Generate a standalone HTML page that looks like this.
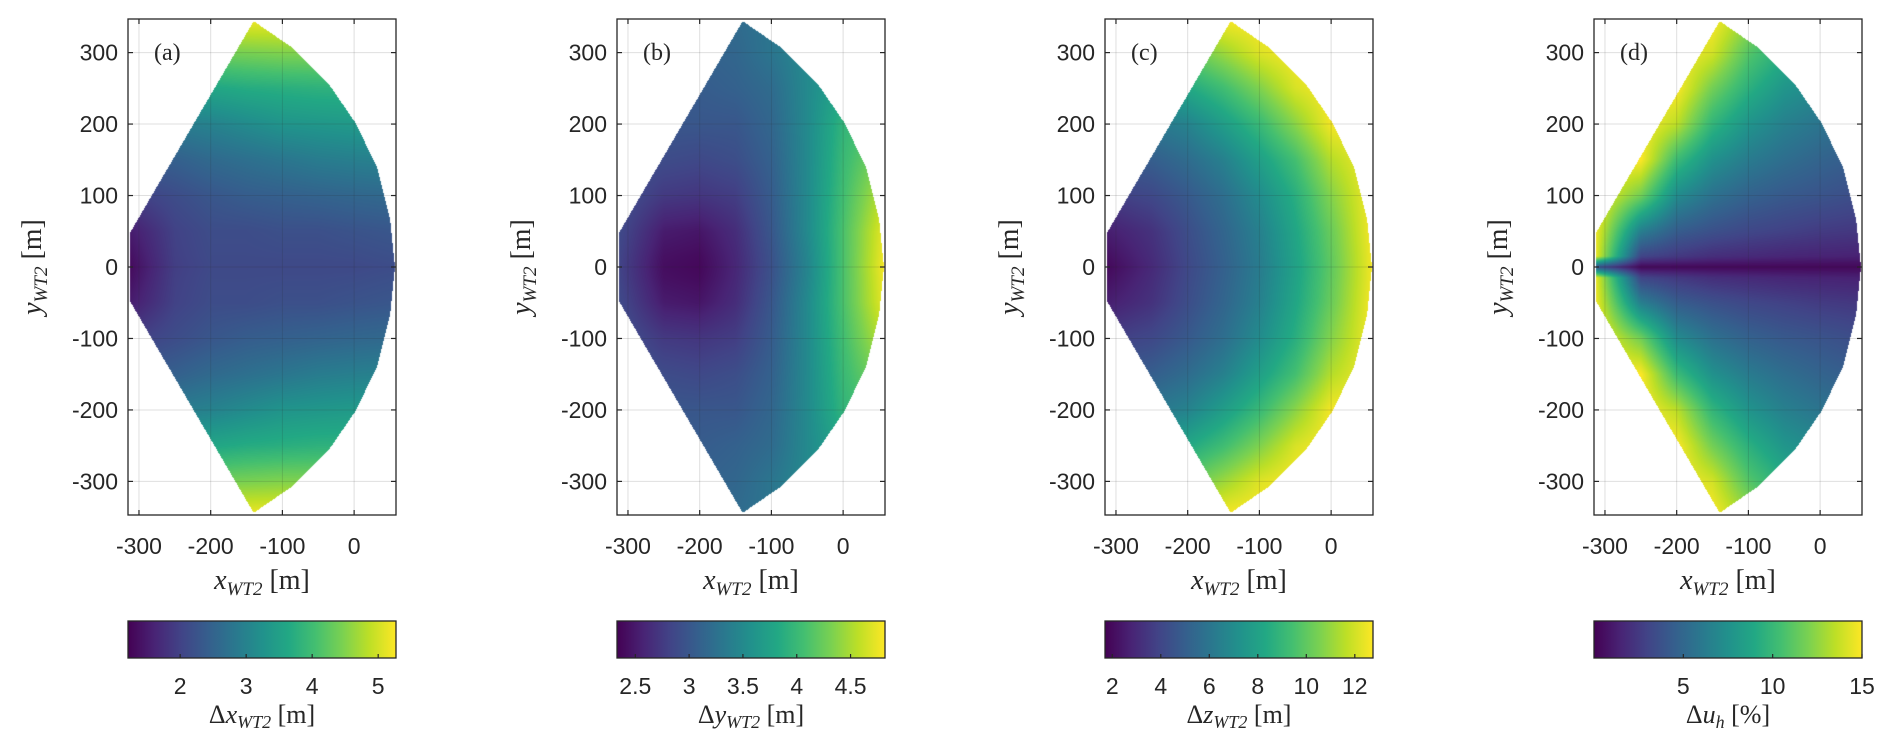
<!DOCTYPE html>
<html><head><meta charset="utf-8">
<style>
html,body{margin:0;padding:0;background:#fff;}
#fig{position:relative;width:1892px;height:749px;overflow:hidden;background:#fff;}
canvas{position:absolute;}
svg{position:absolute;left:0;top:0;}
</style></head>
<body>
<div id="fig">
<svg id="ov" width="1892" height="749"></svg>
</div>
<script>
// ---- data ----
const xNodes = [-315, -250, -200, -150, -100, -50, 0, 58];
const yNodes = [0, 15, 50, 100, 150, 200, 250, 300, 347];
const boundaryX = [-140, -85, -36, 1, 32, 50, 57, 50, 32, 1, -36, -85, -140, -313, -313];
const boundaryY = [344, 306, 257, 203, 140, 68, 0, -68, -140, -203, -257, -306, -344, -47, 47];
const xTicks = [-300, -200, -100, 0];
const yTicks = [300, 200, 100, 0, -100, -200, -300];
const panelLetters = ['(a)', '(b)', '(c)', '(d)'];
const fieldA = [
 [1.3,1.95,2.1,2.1,2.1,2.1,2.1,2.15],
 [1.35,1.97,2.12,2.12,2.13,2.13,2.15,2.2],
 [1.5,2.0,2.15,2.15,2.2,2.2,2.25,2.3],
 [1.95,2.15,2.3,2.4,2.45,2.5,2.55,2.6],
 [2.35,2.45,2.6,2.7,2.8,2.9,2.95,3.0],
 [2.8,2.9,3.0,3.15,3.3,3.35,3.4,3.4],
 [3.4,3.5,3.6,3.7,3.75,3.8,3.8,3.8],
 [4.2,4.3,4.4,4.45,4.5,4.5,4.5,4.5],
 [5.2,5.2,5.2,5.2,5.2,5.2,5.2,5.2]];
const fieldB = [
 [2.85,2.42,2.38,2.6,2.95,3.45,4.1,4.8],
 [2.86,2.44,2.4,2.61,2.96,3.46,4.1,4.78],
 [2.9,2.52,2.48,2.65,3.0,3.5,4.1,4.75],
 [2.95,2.75,2.72,2.78,3.05,3.5,4.05,4.6],
 [3.0,2.9,2.87,2.92,3.1,3.5,4.0,4.4],
 [3.0,3.0,3.0,3.0,3.15,3.5,3.95,4.2],
 [3.0,3.0,3.05,3.1,3.2,3.5,3.8,4.0],
 [3.0,3.05,3.1,3.15,3.3,3.5,3.7,3.8],
 [3.05,3.1,3.15,3.2,3.3,3.5,3.6,3.7]];
const fieldC = [
 [1.9,3.0,4.1,5.1,6.3,8.0,10.0,12.6],
 [2.1,3.1,4.15,5.15,6.35,8.05,10.05,12.6],
 [2.6,3.3,4.3,5.3,6.5,8.2,10.2,12.7],
 [3.7,4.1,4.8,5.7,7.0,8.6,10.7,12.7],
 [4.7,5.0,5.6,6.5,7.9,9.4,11.5,12.75],
 [5.8,6.1,6.6,7.8,9.1,10.8,12.6,12.75],
 [7.3,7.7,8.3,9.3,10.6,12.1,12.75,12.75],
 [9.2,9.5,10.1,11.1,12.2,12.7,12.75,12.75],
 [11.2,11.6,12.1,12.7,12.75,12.75,12.75,12.75]];
const fieldD = [
 [4,0.3,0.3,0.3,0.3,0.3,0.3,0.3],
 [15,3.1,2.5,2.0,1.8,1.6,1.5,1.4],
 [15,6.4,4.4,3.7,3.2,2.9,2.6,2.4],
 [15,11.8,7.2,5.6,4.7,4.2,3.9,3.5],
 [15,15,10.2,7.5,6.2,5.4,4.8,4.3],
 [15,15,13.5,9.8,7.7,6.5,5.8,5.2],
 [15,15,15,11.8,9.5,7.8,7.0,6.1],
 [15,15,15,14,11,9.3,7.9,7.0],
 [15,15,15,15,12.8,10.5,9.0,7.7]];
const cbarMin = [1.21, 2.33, 1.7, 0.0];
const cbarMax = [5.27, 4.82, 12.75, 15.0];
const cbarTicksA = [2, 3, 4, 5];
const cbarTicksB = [2.5, 3, 3.5, 4, 4.5];
const cbarTicksC = [2, 4, 6, 8, 10, 12];
const cbarTicksD = [5, 10, 15];

// ---- styling / layout ----
const fields = [fieldA, fieldB, fieldC, fieldD];
const cbarTicks = [cbarTicksA, cbarTicksB, cbarTicksC, cbarTicksD];
const cbarLabels = [
 ['Δ','x','WT2',' [m]'],['Δ','y','WT2',' [m]'],['Δ','z','WT2',' [m]'],['Δ','u','h',' [%]']];
const XMIN=-315.3, XMAX=58.4, YMIN=-347, YMAX=347;
const AX_W=268, AX_TOP=19, AX_H=496;
const lefts=[128,617,1105,1594];
const CB_TOP=621, CB_H=37;
const VIR=[[68,1,84],[72,36,117],[65,68,135],[53,95,141],[42,120,142],[33,145,140],[34,168,132],[68,191,112],[122,209,81],[189,223,38],[253,231,37]];
function vir(t){t=Math.max(0,Math.min(1,t));const f=t*10;const i=Math.min(9,Math.floor(f));const r=f-i;const a=VIR[i],b=VIR[i+1];
 return [a[0]+(b[0]-a[0])*r,a[1]+(b[1]-a[1])*r,a[2]+(b[2]-a[2])*r];}
function interp(F,x,y){y=Math.abs(y);
 let i=0;while(i<xNodes.length-2&&x>xNodes[i+1])i++;
 let j=0;while(j<yNodes.length-2&&y>yNodes[j+1])j++;
 let tx=(x-xNodes[i])/(xNodes[i+1]-xNodes[i]);tx=Math.max(0,Math.min(1,tx));
 let ty=(y-yNodes[j])/(yNodes[j+1]-yNodes[j]);ty=Math.max(0,Math.min(1,ty));
 const a=F[j][i],b=F[j][i+1],c=F[j+1][i],d=F[j+1][i+1];
 return (a*(1-tx)+b*tx)*(1-ty)+(c*(1-tx)+d*tx)*ty;}
function inside(x,y){let c=false;const n=boundaryX.length;
 for(let i=0,j=n-1;i<n;j=i++){const xi=boundaryX[i],yi=boundaryY[i],xj=boundaryX[j],yj=boundaryY[j];
  if(((yi>y)!=(yj>y))&&(x<(xj-xi)*(y-yi)/(yj-yi)+xi))c=!c;}return c;}
const NS='http://www.w3.org/2000/svg';
const ov=document.getElementById('ov');
const fig=document.getElementById('fig');
function el(tag,attrs,parent){const e=document.createElementNS(NS,tag);for(const k in attrs)e.setAttribute(k,attrs[k]);(parent||ov).appendChild(e);return e;}
const INK='#262626';

for(let p=0;p<4;p++){
 const L=lefts[p];
 const sx=v=>L+(v-XMIN)/(XMAX-XMIN)*AX_W;
 const sy=v=>AX_TOP+(YMAX-v)/(YMAX-YMIN)*AX_H;
 const cv=document.createElement('canvas');
 cv.width=AX_W;cv.height=AX_H;cv.style.left=L+'px';cv.style.top=AX_TOP+'px';
 
 
 fig.insertBefore(cv,ov);
 const ctx=cv.getContext('2d');const img=ctx.createImageData(AX_W,AX_H);
 const F=fields[p],mn=cbarMin[p],mx=cbarMax[p];
 for(let py=0;py<AX_H;py++){const y=YMAX-(py+0.5)/AX_H*(YMAX-YMIN);
  for(let px=0;px<AX_W;px++){const x=XMIN+(px+0.5)/AX_W*(XMAX-XMIN);
   const k=(py*AX_W+px)*4;
   if(!inside(x,y)){img.data[k+3]=0;continue;}
   const c=vir((interp(F,x,y)-mn)/(mx-mn));
   img.data[k]=c[0];img.data[k+1]=c[1];img.data[k+2]=c[2];img.data[k+3]=255;}}
 ctx.putImageData(img,0,0);

 const g=el('g',{});
 
 
 xTicks.forEach(v=>{const l=el('line',{x1:sx(v),x2:sx(v),y1:AX_TOP,y2:AX_TOP+AX_H,stroke:'#262626','stroke-opacity':0.15,'stroke-width':1},g);
  });
 yTicks.forEach(v=>{const l=el('line',{x1:L,x2:L+AX_W,y1:sy(v),y2:sy(v),stroke:'#262626','stroke-opacity':0.15,'stroke-width':1},g);
  });
 const box=el('rect',{x:L,y:AX_TOP,width:AX_W,height:AX_H,fill:'none',stroke:INK,'stroke-width':1.3},g);
 
 xTicks.forEach(v=>{
  el('line',{x1:sx(v),x2:sx(v),y1:AX_TOP+AX_H,y2:AX_TOP+AX_H-5,stroke:INK,'stroke-width':1.2},g);
  el('line',{x1:sx(v),x2:sx(v),y1:AX_TOP,y2:AX_TOP+5,stroke:INK,'stroke-width':1.2},g);
  const t=el('text',{x:sx(v),y:554,'text-anchor':'middle','font-family':'Liberation Sans, sans-serif','font-size':23,fill:INK},g);
  t.textContent=v;});
 yTicks.forEach(v=>{
  el('line',{x1:L,x2:L+5,y1:sy(v),y2:sy(v),stroke:INK,'stroke-width':1.2},g);
  el('line',{x1:L+AX_W,x2:L+AX_W-5,y1:sy(v),y2:sy(v),stroke:INK,'stroke-width':1.2},g);
  const t=el('text',{x:L-10,y:sy(v)+8,'text-anchor':'end','font-family':'Liberation Sans, sans-serif','font-size':23,fill:INK},g);
  t.textContent=v;});
 const pl=el('text',{x:L+26,y:60,'font-family':'Liberation Serif, serif','font-size':24,fill:INK},g);
 pl.textContent=panelLetters[p];
 const xl=el('text',{x:L+AX_W/2,y:589,'text-anchor':'middle','font-family':'Liberation Serif, serif','font-size':28,fill:INK},g);
 xl.innerHTML='<tspan font-style="italic">x</tspan><tspan font-style="italic" font-size="19" dy="6">WT2</tspan><tspan dy="-6"> [m]</tspan>';
 
 const yl=el('text',{x:0,y:0,'text-anchor':'middle','font-family':'Liberation Serif, serif','font-size':28,fill:INK,transform:'translate('+(L-87)+','+(AX_TOP+AX_H/2)+') rotate(-90)'},g);
 yl.innerHTML='<tspan font-style="italic">y</tspan><tspan font-style="italic" font-size="19" dy="6">WT2</tspan><tspan dy="-6"> [m]</tspan>';
 
 const gid='grad'+p;
 const defs=el('defs',{},g);const lg=el('linearGradient',{id:gid,x1:0,x2:1,y1:0,y2:0},defs);
 for(let i=0;i<=10;i++){const c=VIR[i];el('stop',{offset:i/10,'stop-color':'rgb('+c.join(',')+')'},lg);}
 const cb=el('rect',{x:L,y:CB_TOP,width:AX_W,height:CB_H,fill:'url(#'+gid+')',stroke:INK,'stroke-width':1.3},g);
 
 const cx=v=>L+(v-cbarMin[p])/(cbarMax[p]-cbarMin[p])*AX_W;
 cbarTicks[p].forEach(v=>{
  el('line',{x1:cx(v),x2:cx(v),y1:CB_TOP+CB_H,y2:CB_TOP+CB_H-4,stroke:INK,'stroke-width':1.2},g);
  const t=el('text',{x:cx(v),y:694,'text-anchor':'middle','font-family':'Liberation Sans, sans-serif','font-size':23,fill:INK},g);
  t.textContent=v;});
 const cl=cbarLabels[p];
 const ct=el('text',{x:L+AX_W/2,y:723,'text-anchor':'middle','font-family':'Liberation Serif, serif','font-size':26,fill:INK},g);
 ct.innerHTML='<tspan>'+cl[0]+'</tspan><tspan font-style="italic">'+cl[1]+'</tspan><tspan font-style="italic" font-size="18" dy="5">'+cl[2]+'</tspan><tspan dy="-5">'+cl[3]+'</tspan>';
 
}
</script>
</body></html>
